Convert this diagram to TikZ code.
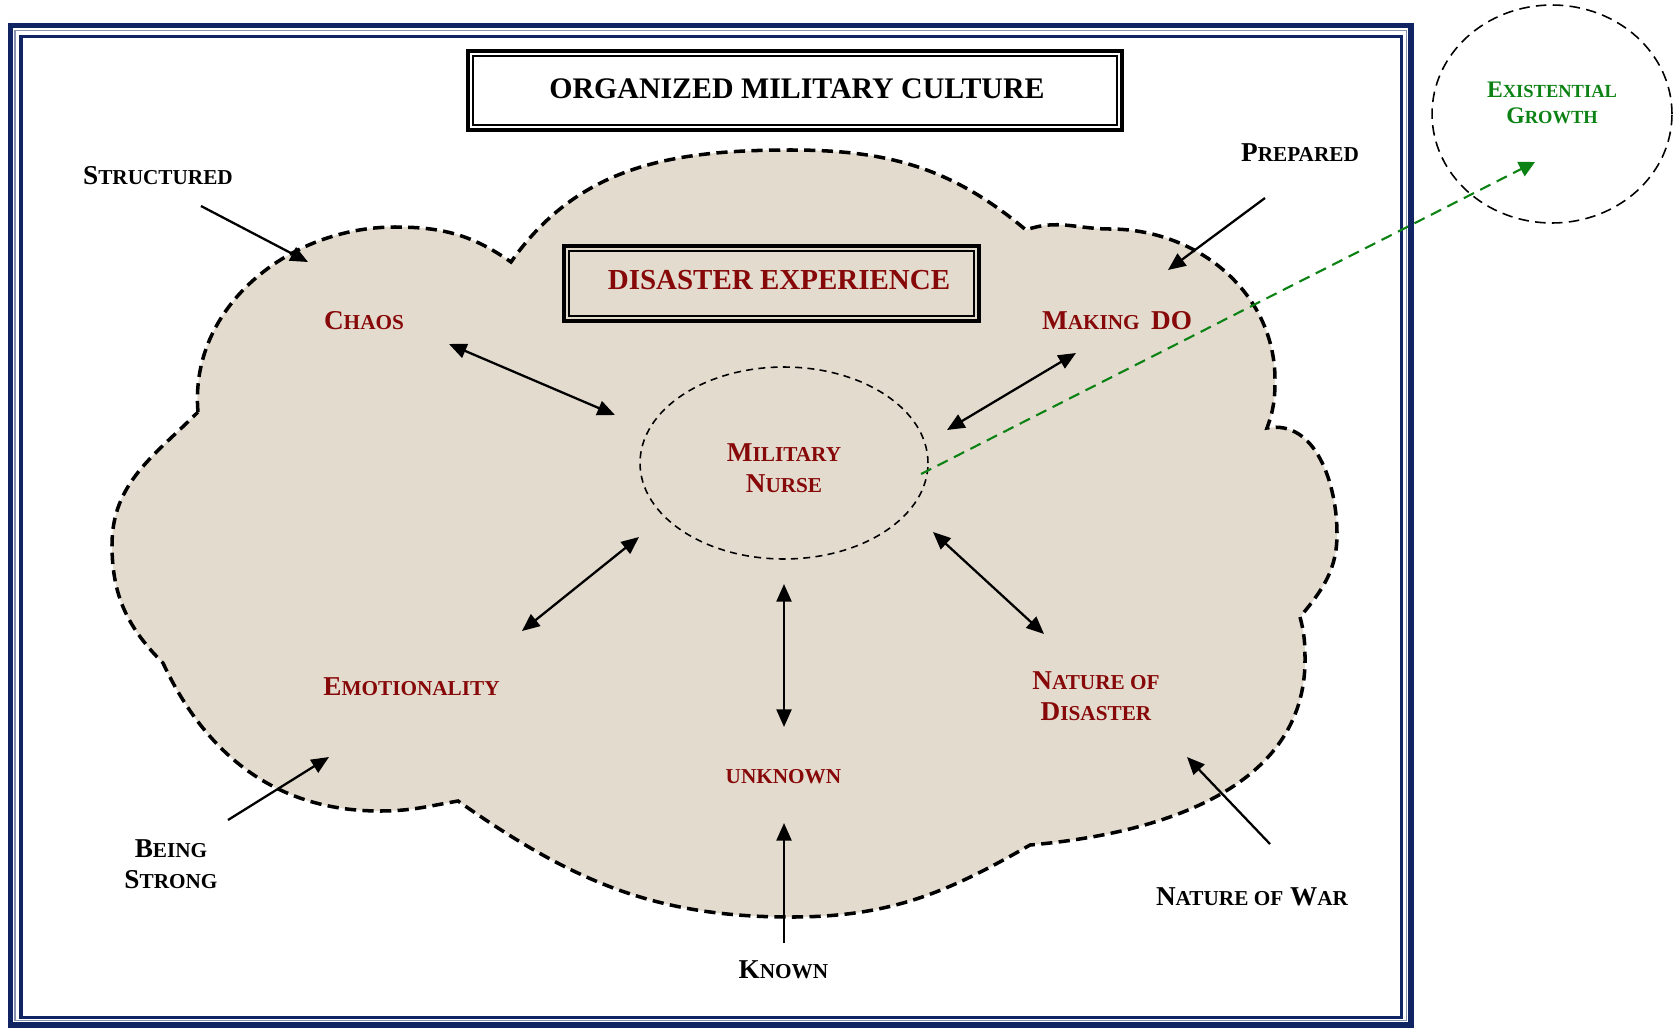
\documentclass[tikz,border=0pt]{standalone}
\usepackage{fontspec}
\setmainfont{Liberation Serif}
\usepackage{graphicx}
\usetikzlibrary{positioning,arrows.meta,shapes.geometric}
\definecolor{framenavy}{RGB}{16,36,100}
\definecolor{cloudtan}{RGB}{227,219,206}
\definecolor{labelred}{RGB}{135,8,8}
\definecolor{growthgreen}{RGB}{12,130,20}
\newcommand{\smallcap}[1]{\scalebox{0.78}{#1}}
\tikzset{
  every node/.style={inner sep=0pt, align=center},
  label font/.style={font=\fontsize{15.5}{17.6}\selectfont\bfseries},
  outer label/.style={label font, text=black},
  inner label/.style={label font, text=labelred},
  cloud/.style={fill=cloudtan, draw=black, line width=2pt,
    dash pattern=on 6.4pt off 3.6pt},
  framebox/.style={rectangle, draw=black, line width=1.8pt},
  frameinner/.style={rectangle, draw=black, line width=0.8pt},
  nurse ring/.style={ellipse, draw=black, line width=0.9pt,
    dash pattern=on 4pt off 3pt},
  growth ring/.style={ellipse, draw=black, line width=0.9pt,
    dash pattern=on 6pt off 3.6pt},
  tip/.style={-{Triangle[length=10pt,width=8.5pt]}, line width=1.3pt},
  two way/.style={{Triangle[length=10pt,width=8.5pt]}-{Triangle[length=10pt,width=8.5pt]}, line width=1.3pt},
  growth link/.style={-{Triangle[length=9pt,width=9pt]}, growthgreen,
    line width=1.2pt, dash pattern=on 6.5pt off 4pt}
}
\begin{document}
\begin{tikzpicture}[x=0.02cm, y=0.02cm]
\useasboundingbox (0,0) rectangle (1676,-1031);
% page frame
\draw[framenavy, line width=3pt] (10.5,-25.5) rectangle (1411,-1025);
\draw[framenavy!50, line width=0.6pt] (15,-30.3) rectangle (1406.3,-1020.8);
\draw[framenavy, line width=1.8pt] (21,-36.5) rectangle (1401.5,-1017.5);

% the cloud
\draw[cloud] (198,-412) to[out=95,in=180] (395,-227) to[out=0,in=145] (511,-262)
  to[out=55,in=180] (791,-150) to[out=0,in=140] (1026,-230)
  to[out=20,in=180] (1110,-229) to[out=0,in=90] (1275,-380)
  to[out=-90,in=70] (1267,-428) to[out=10,in=90] (1337,-534)
  to[out=-90,in=50] (1300,-617) to[out=-75,in=90] (1305,-660)
  to[out=-90,in=5] (1030,-845) to[out=-150,in=0] (791,-917)
  to[out=180,in=-35] (458,-801) to[out=190,in=0] (380,-811)
  to[out=180,in=-65] (163,-663) to[out=135,in=-90] (112,-545)
  to[out=90,in=-135] (198,-412) -- cycle;

% boxes
\node[framebox, minimum width=13.08cm, minimum height=1.58cm] (title) at (795,-90.5) {};
\node[frameinner, minimum width=12.88cm, minimum height=1.38cm] (title-inner) at (title) {};
\node[font=\fontsize{17}{20}\selectfont\bfseries] (title-text) at (797,-88.5) {ORGANIZED MILITARY CULTURE};
\node[framebox, minimum width=8.30cm, minimum height=1.50cm] (disaster) at (771.5,-283.5) {};
\node[frameinner, minimum width=8.10cm, minimum height=1.30cm] (disaster-inner) at (disaster) {};
\node[text=labelred, font=\fontsize{16.5}{19}\selectfont\bfseries] (disaster-text) at (779,-280) {DISASTER EXPERIENCE};

% rings
\node[nurse ring, minimum width=5.76cm, minimum height=3.84cm] (nurse) at (784,-463) {};
\node[inner label] (nurse-text) at (784,-468) {M\smallcap{ILITARY}\\N\smallcap{URSE}};
\node[growth ring, minimum width=4.8cm, minimum height=4.36cm] (growth) at (1552,-114) {};
\node[text=growthgreen, font=\fontsize{13.5}{15.2}\selectfont\bfseries] (growth-text) at (1552,-103)
  {E\smallcap{XISTENTIAL}\\G\smallcap{ROWTH}};

% labels in the cloud
\node[inner label] (chaos) at (364,-321) {C\smallcap{HAOS}};
\node[inner label] (making) at (1117,-321) {M\smallcap{AKING}\, DO};
\node[inner label] (emotion) at (411.5,-687) {E\smallcap{MOTIONALITY}};
\node[inner label] (unknown) at (783.5,-777) {\smallcap{UNKNOWN}};
\node[inner label] (nature-dis) at (1096,-696) {N\smallcap{ATURE OF}\\D\smallcap{ISASTER}};

% labels outside
\node[outer label] (structured) at (158,-176) {S\smallcap{TRUCTURED}};
\node[outer label] (prepared) at (1300,-153) {P\smallcap{REPARED}};
\node[outer label] (being) at (171,-864) {B\smallcap{EING}\\S\smallcap{TRONG}};
\node[outer label] (known) at (783.5,-969.5) {K\smallcap{NOWN}};
\node[outer label] (nature-war) at (1252,-897) {N\smallcap{ATURE OF} W\smallcap{AR}};

% arrow ends
\coordinate (structured-a) at (201,-206);
\coordinate (structured-b) at (308,-262);
\coordinate (chaos-a) at (449,-344);
\coordinate (chaos-b) at (615,-415);
\coordinate (making-a) at (1076,-353);
\coordinate (making-b) at (947,-430);
\coordinate (prepared-a) at (1265,-198);
\coordinate (prepared-b) at (1168,-270);
\coordinate (emotion-a) at (522,-631);
\coordinate (emotion-b) at (639,-537);
\coordinate (being-a) at (228,-820);
\coordinate (being-b) at (329,-757);
\coordinate (unknown-a) at (784,-727);
\coordinate (unknown-b) at (784,-584);
\coordinate (known-a) at (784,-943);
\coordinate (known-b) at (784,-823);
\coordinate (nature-dis-a) at (1044,-634);
\coordinate (nature-dis-b) at (933,-532);
\coordinate (nature-war-a) at (1270,-844);
\coordinate (nature-war-b) at (1187,-757);
\coordinate (growth-a) at (921,-474);
\coordinate (growth-b) at (1535,-162);

% connectors
\draw[tip] (structured-a) -- (structured-b);
\draw[two way] (chaos-a) -- (chaos-b);
\draw[two way] (making-a) -- (making-b);
\draw[tip] (prepared-a) -- (prepared-b);
\draw[two way] (emotion-a) -- (emotion-b);
\draw[tip] (being-a) -- (being-b);
\draw[two way] (unknown-a) -- (unknown-b);
\draw[tip] (known-a) -- (known-b);
\draw[two way] (nature-dis-a) -- (nature-dis-b);
\draw[tip] (nature-war-a) -- (nature-war-b);
\draw[growth link] (growth-a) -- (growth-b);
\end{tikzpicture}
\end{document}
